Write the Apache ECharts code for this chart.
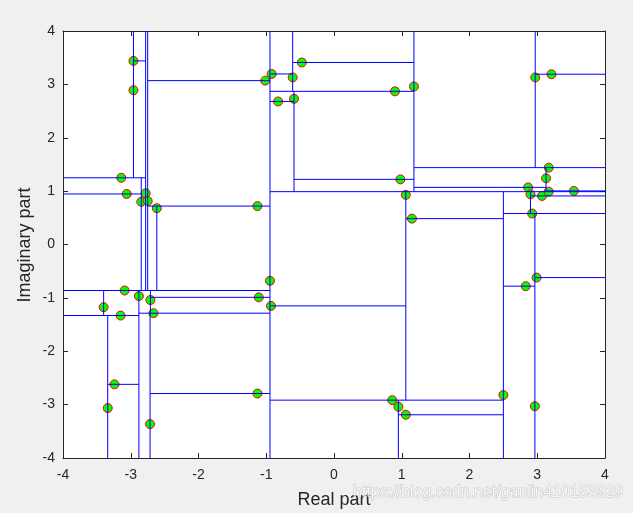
<!DOCTYPE html>
<html>
<head>
<meta charset="utf-8">
<script src="https://cdn.jsdelivr.net/npm/echarts@6/dist/echarts.min.js"></script>
<style>
html,body{margin:0;padding:0;background:#f0f0f0;}
#chart{width:633px;height:513px;}
</style>
</head>
<body>
<div id="chart"></div>
<script>
// Data points (real, imaginary)
const pointsX = [-2.96,-2.96,-3.14,-3.06,-2.78,-2.845,-2.75,-2.615,-1.13,-1.015,
  -0.92,-0.61,-0.475,-0.825,-0.59,0.90,1.18,2.97,3.21,0.98,
  1.06,1.15,3.17,3.13,2.865,2.90,3.07,3.17,3.54,2.925,
  -0.945,-3.09,-2.88,-2.71,-3.40,-3.15,-2.665,-1.11,-0.93,-3.24,
  -3.34,-2.715,-1.13,2.99,2.83,0.86,0.95,1.06,2.50,2.965];
const pointsY = [3.44,2.89,1.25,0.947,0.96,0.80,0.816,0.68,0.72,3.07,
  3.195,3.13,3.41,2.68,2.73,2.87,2.96,3.13,3.19,1.22,
  0.93,0.485,1.44,1.24,1.07,0.94,0.91,0.99,1.004,0.58,
  -0.68,-0.862,-0.966,-1.04,-1.175,-1.331,-1.287,-0.99,-1.15,-2.62,
  -3.065,-3.365,-2.792,-0.62,-0.781,-2.916,-3.04,-3.19,-2.82,-3.03];

// Vertical split segments: x, from y0 to y1
const vertX  = [-0.945,-2.78,-2.75,-2.96,-2.845,-2.615,-3.40,-2.88,-3.34,-2.71,-2.715,
  1.18,-0.61,-0.59,2.97,3.13,2.50,1.06,0.95,2.90,2.965];
const vertY0 = [-4,-0.862,-0.862,1.25,-0.862,-0.862,-1.331,-4,-4,-1.287,-4,
  0.99,2.87,0.99,1.44,0.99,-4,-2.916,-4,0.58,-4];
const vertY1 = [4,4,4,4,1.25,0.72,-0.862,-0.862,-1.331,-0.862,-1.287,
  4,4,2.87,4,1.44,0.99,0.99,-2.916,0.99,0.58];

// Horizontal split segments: y, from x0 to x1
const horY  = [-0.862,0.99,1.25,3.44,0.947,0.72,3.07,-1.331,-2.62,-1.287,-0.99,-2.792,
  2.87,3.195,3.41,2.68,1.22,1.44,3.19,1.07,1.004,-2.916,-1.15,0.485,-3.19,0.58,0.91,-0.62,-0.781];
const horX0 = [-4,-0.945,-4,-2.96,-4,-2.75,-2.75,-4,-3.34,-2.88,-2.71,-2.715,
  -0.945,-0.945,-0.61,-0.945,-0.59,1.18,2.97,1.18,3.13,-0.945,-0.945,1.06,0.95,2.50,2.90,2.965,2.50];
const horX1 = [-0.945,4,-2.78,-2.78,-2.845,-0.945,-0.945,-2.88,-2.88,-0.945,-0.945,-0.945,
  1.18,-0.61,1.18,-0.59,1.18,4,4,3.13,4,2.50,1.06,2.50,2.50,4,4,4,2.965];

const xTicks = [-4,-3,-2,-1,0,1,2,3,4];
const yTicks = [-4,-3,-2,-1,0,1,2,3,4];

const segs = [];
for (let i = 0; i < vertX.length; i++) segs.push([[vertX[i], vertY0[i]], [vertX[i], vertY1[i]]]);
for (let i = 0; i < horY.length; i++) segs.push([[horX0[i], horY[i]], [horX1[i], horY[i]]]);
const pts = pointsX.map((x, i) => [x, pointsY[i]]);

const axisColor = '#262626';
const font = "'Liberation Sans', Arial, Helvetica, sans-serif";
function mkAxis(pos, showLabel, ticks) {
  return {
    type: 'value', min: ticks[0], max: ticks[ticks.length-1], interval: 1, position: pos,
    axisLine: {show: true, onZero: false, lineStyle: {color: axisColor, width: 1}},
    axisTick: {show: true, inside: true, length: 5, lineStyle: {color: axisColor}},
    axisLabel: {show: showLabel, color: axisColor, fontSize: 14, fontFamily: font, margin: pos === 'bottom' ? 10 : 8},
    splitLine: {show: false}
  };
}

const series = [{
  type: 'scatter', xAxisIndex: 0, yAxisIndex: 0, data: pts, symbol: 'circle', symbolSize: 9,
  itemStyle: {color: '#00ff00', borderColor: '#ff0000', borderWidth: 1, opacity: 1}, z: 2, silent: true
}];
segs.forEach(s => series.push({
  type: 'line', xAxisIndex: 0, yAxisIndex: 0, data: s, showSymbol: false, symbol: 'none',
  lineStyle: {color: '#0000ff', width: 1}, itemStyle: {color: '#0000ff'}, z: 3, silent: true
}));

const chart = echarts.init(document.getElementById('chart'), null, {renderer: 'canvas'});
chart.setOption({
  animation: false,
  backgroundColor: '#f0f0f0',
  grid: {left: 63, top: 31, width: 542, height: 427, show: true, backgroundColor: '#ffffff', borderWidth: 0},
  xAxis: [mkAxis('bottom', true, xTicks), mkAxis('top', false, xTicks)],
  yAxis: [mkAxis('left', true, yTicks), mkAxis('right', false, yTicks)],
  series: series,
  graphic: [
    {type: 'text', x: 334, y: 500, style: {text: 'Real part', fontSize: 18, fontFamily: font, fill: axisColor, align: 'center', verticalAlign: 'middle'}},
    {type: 'text', x: 353, y: 493, z: 10, style: {text: 'https://blog.csdn.net/ganlin410153929', fontSize: 16, fontFamily: font, fill: 'rgba(255,255,255,0.85)', stroke: 'rgba(150,150,150,0.5)', lineWidth: 1, align: 'left', verticalAlign: 'middle'}},
    {type: 'text', rotation: Math.PI / 2, x: 25, y: 245, style: {text: 'Imaginary part', fontSize: 18, fontFamily: font, fill: axisColor, align: 'center', verticalAlign: 'middle'}}
  ]
});
</script>
</body>
</html>
